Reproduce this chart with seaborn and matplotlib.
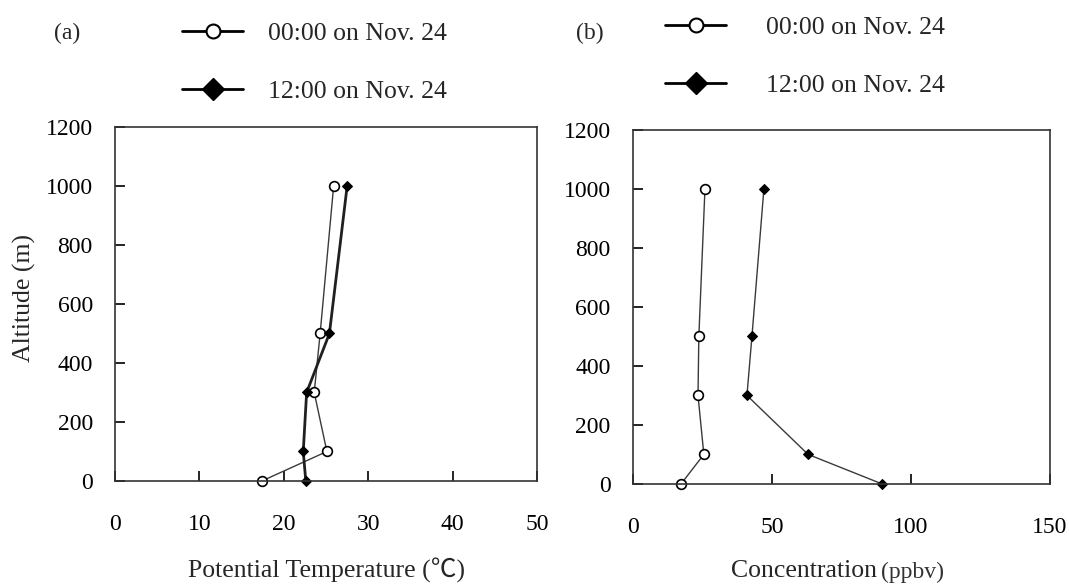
import matplotlib
matplotlib.use("Agg")
import matplotlib.pyplot as plt
import seaborn as sns
import pandas as pd
from matplotlib.lines import Line2D

# ---------------------------------------------------------------------------
# datos
# ---------------------------------------------------------------------------
altitude = [0, 100, 300, 500, 1000]
series_labels = ["00:00 on Nov. 24", "12:00 on Nov. 24"]

temp_00 = [17.4, 25.1, 23.6, 24.3, 25.9]
temp_12 = [22.6, 22.3, 22.7, 25.4, 27.5]

conc_00 = [17.3, 25.5, 23.4, 23.7, 25.9]
conc_12 = [89.6, 63.0, 41.0, 42.8, 47.1]

sns.set_theme(style="ticks")
plt.rcParams["font.family"] = ["Liberation Serif", "Noto Sans CJK SC", "DejaVu Sans"]

FS = 17      # etiquetas de los ticks
LBL = 18.5   # titulos de los ejes
LFS = 18.5   # leyenda
W, H = 1069, 588

fig = plt.figure(figsize=(10.69, 5.88), dpi=100)
ax_a = fig.add_axes([0.1076, 0.182, 0.3948, 0.602])
ax_b = fig.add_axes([0.5921, 0.177, 0.3901, 0.602])

style_00 = dict(marker="o", markersize=7, markerfacecolor="white",
                markeredgecolor="black", markeredgewidth=1.2)
style_12 = dict(marker="D", markersize=5.5, markerfacecolor="black",
                markeredgecolor="black")


def draw_panel(ax, x00, x12, lw12):
    df0 = pd.DataFrame({"x": x00, "y": altitude})
    df1 = pd.DataFrame({"x": x12, "y": altitude})
    sns.lineplot(data=df0, x="x", y="y", sort=False, estimator=None,
                 color="#3a3a3a", linewidth=1.0, ax=ax, **style_00)
    sns.lineplot(data=df1, x="x", y="y", sort=False, estimator=None,
                 color="#202020" if lw12 > 1.5 else "#3a3a3a", linewidth=lw12,
                 ax=ax, **style_12)
    ax.set_ylim(0, 1200)
    ax.set_yticks(range(0, 1201, 200))
    ax.tick_params(direction="in", length=7, width=1.2, labelsize=FS,
                   colors="black")
    ax.tick_params(axis="x", pad=24)
    ax.tick_params(axis="y", pad=16)
    for sp in ax.spines.values():
        sp.set_linewidth(1.2)
        sp.set_color("#333333")
        sp.set_visible(True)
    ax.set_ylabel("")
    for line in ax.lines:
        line.set_clip_on(False)


draw_panel(ax_a, temp_00, temp_12, 2.0)
ax_a.set_xlim(0, 50)
ax_a.set_xticks(range(0, 51, 10))
ax_a.set_xlabel("Potential Temperature (\u2103)", fontsize=LBL, va="center")
ax_a.xaxis.set_label_coords(0.5, (481 - 571) / 354)
ax_a.set_ylabel("Altitude (m)", fontsize=LBL, va="center")
ax_a.yaxis.set_label_coords((24 - 115) / 422, (481 - 298) / 354)

draw_panel(ax_b, conc_00, conc_12, 1.0)
ax_b.set_xlim(0, 150)
ax_b.set_xticks(range(0, 151, 50))
ax_b.set_xlabel("")
fig.text(877 / W, 1 - 571 / H, "Concentration", fontsize=LBL,
         ha="right", va="center")
fig.text(881 / W, 1 - 572 / H, "(ppbv)", fontsize=LBL - 1.5, color="#333333",
         ha="left", va="center")


def legend_handles():
    h0 = Line2D([], [], color="black", linewidth=2.0, marker="o", markersize=10,
                markerfacecolor="white", markeredgecolor="black",
                markeredgewidth=1.5)
    h1 = Line2D([], [], color="black", linewidth=2.0, marker="D", markersize=11,
                markerfacecolor="black", markeredgecolor="black")
    return [h0, h1]


ax_a.legend(legend_handles(), series_labels, loc="upper left",
            bbox_to_anchor=(172 / W, 1 - 12 / H), bbox_transform=fig.transFigure,
            frameon=False, fontsize=LFS, handlelength=2.37, handletextpad=0.97,
            labelspacing=1.34, borderaxespad=0)
ax_b.legend(legend_handles(), series_labels, loc="upper left",
            bbox_to_anchor=(655 / W, 1 - 6 / H), bbox_transform=fig.transFigure,
            frameon=False, fontsize=LFS, handlelength=2.37, handletextpad=1.56,
            labelspacing=1.34, borderaxespad=0)

fig.text(67 / W, 1 - 33 / H, "(a)", fontsize=FS, ha="center", va="center")
fig.text(590 / W, 1 - 33 / H, "(b)", fontsize=FS, ha="center", va="center")

fig.savefig("out.png", dpi=100)
